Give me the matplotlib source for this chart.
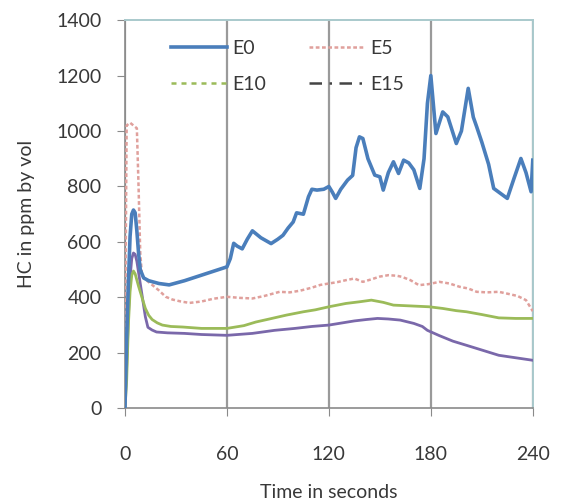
import matplotlib.pyplot as plt
from matplotlib.lines import Line2D

plt.rcParams['font.family'] = ['Lato', 'DejaVu Sans']

# time (s) and HC (ppm by vol)
t_e0 = [0, 1, 2, 3, 4, 5, 6, 7, 8, 9, 11, 14, 20, 26, 35, 45, 55, 60, 62, 64, 66, 69, 72, 75,
        80, 86, 90, 93, 96, 99, 101, 105, 108, 110, 113, 117, 120, 122, 124, 127, 131, 134,
        136, 138, 140, 143, 147, 150, 152, 155, 158, 161, 164, 167, 170, 173.5, 176, 178,
        180, 183, 187, 190, 195, 198, 202, 205, 207, 210, 214, 217, 221, 225, 229, 233, 236,
        239, 240]
e0 = [0, 250, 450, 620, 700, 715, 705, 640, 560, 500, 470, 460, 450, 445, 460, 480, 500, 510,
      540, 595, 585, 575, 610, 640, 615, 594, 610, 624, 650, 672, 705, 700, 763, 790, 787, 790,
      800, 780, 757, 790, 823, 840, 940, 979, 973, 900, 841, 835, 787, 850, 889, 847, 895, 885,
      860, 793, 900, 1100, 1200, 991, 1069, 1051, 955, 1000, 1154, 1050, 1015, 960, 880, 793,
      775, 757, 830, 901, 850, 781, 895]

t_e5 = [0, 0.5, 1, 3, 5, 7, 8, 9, 10, 12, 14, 17, 20, 24, 28, 33, 38, 45, 52, 60, 68, 75,
        82, 91, 97, 103, 110, 115, 120, 125, 130, 135, 140, 145, 150, 155, 160, 163, 168, 173,
        179, 185, 191, 197, 202, 207, 213, 220, 226, 231, 234, 236, 238, 240]
e5 = [0, 600, 1020, 1030, 1020, 1010, 800, 560, 480, 465, 455, 440, 425, 402, 392, 385, 380,
      385, 395, 402, 398, 396, 405, 420, 418, 424, 435, 445, 450, 455, 462, 468, 456, 465, 475,
      480, 478, 474, 462, 444, 448, 456, 450, 438, 432, 420, 418, 420, 412, 405, 396, 390, 370,
      350]

t_e10 = [0, 1, 2, 3, 4, 5, 6, 8, 10, 12, 14, 16, 19, 22, 27, 34, 45, 60, 70, 77, 85, 95,
         105, 112, 120, 130, 138, 145, 152, 158, 165, 172, 179, 187, 195, 201, 210, 220, 230,
         240]
e10 = [0, 100, 300, 420, 480, 495, 485, 440, 400, 360, 335, 320, 308, 300, 295, 293, 288,
       288, 298, 311, 322, 336, 348, 355, 366, 378, 384, 390, 382, 372, 370, 368, 366, 360,
       352, 348, 338, 326, 324, 324]

t_e15 = [0, 1, 2, 3, 4, 5, 6, 7, 8, 9, 10, 11, 12, 13.5, 16, 18.6, 25, 35, 45, 60, 75, 88,
         100, 110, 120, 128, 135, 142, 148.6, 155, 162, 170, 175, 178, 185, 193, 201, 210, 220,
         230, 240]
e15 = [0, 150, 330, 470, 540, 560, 555, 530, 490, 450, 410, 370, 330, 292, 282, 275, 272, 270,
       266, 263, 270, 281, 288, 295, 300, 308, 315, 320, 324, 322, 318, 306, 295, 281, 262,
       242, 227, 210, 191, 182, 173]

fig = plt.figure(figsize=(5.68, 5.04), dpi=100)
ax = fig.add_axes([0.220, 0.190, 0.718, 0.770])
ax.set_facecolor('white')

ax.plot(t_e15, e15, color='#7a68aa', lw=2.0, zorder=3)
ax.plot(t_e10, e10, color='#9bbb59', lw=2.0, zorder=3)
ax.plot(t_e5, e5, color='#e0a09c', lw=1.8, ls=(0, (1.5, 1)), zorder=3)
ax.plot(t_e0, e0, color='#4a7ebb', lw=2.6, zorder=4)

ax.set_xlim(0, 240)
ax.set_ylim(0, 1400)
ax.set_xticks([0, 60, 120, 180, 240])
ax.set_yticks(range(0, 1401, 200))
ax.grid(axis='x', color='#9a9a9a', lw=1.6)
ax.set_axisbelow(True)

for s in ['left', 'bottom']:
    ax.spines[s].set_color('#8a8a8a')
    ax.spines[s].set_linewidth(1.2)
for s in ['top', 'right']:
    ax.spines[s].set_color('#a9c9cc')
    ax.spines[s].set_linewidth(1.4)

ax.tick_params(axis='both', direction='out', length=6, color='#8a8a8a',
               labelsize=14, labelcolor='#383838')
ax.tick_params(axis='x', pad=21)
ax.tick_params(axis='y', pad=11)

ax.set_xlabel('Time in seconds', fontsize=14, color='#383838', labelpad=15)
ax.set_ylabel('HC in ppm by vol', fontsize=14, color='#383838', labelpad=15)

handles = [
    Line2D([], [], color='#4a7ebb', lw=2.6),
    Line2D([], [], color='#9bbb59', lw=1.8, ls=(0, (2, 2))),
    Line2D([], [], color='#e0a09c', lw=1.8, ls=(0, (1.5, 1))),
    Line2D([], [], color='#444444', lw=1.8, ls=(0, (5, 3, 1, 3))),
]
ax.legend(handles, ['E0', 'E10', 'E5', 'E15'], ncol=2, loc='upper left',
          bbox_to_anchor=(0.07, 0.995), frameon=False, fontsize=14,
          handlelength=2.9, handletextpad=0.25, columnspacing=2.2, labelspacing=1.0,
          labelcolor='#383838')

fig.savefig('out.png', dpi=100)
